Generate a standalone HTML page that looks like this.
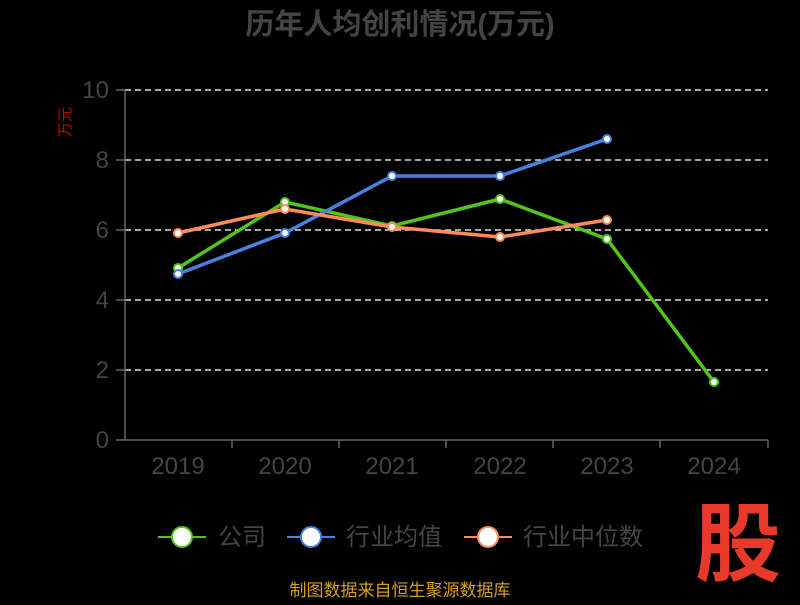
<!DOCTYPE html>
<html><head><meta charset="utf-8"><style>body{margin:0;background:#000;width:800px;height:600px;overflow:hidden}</style></head><body>
<svg width="800" height="600" xmlns="http://www.w3.org/2000/svg" font-family="Liberation Sans, Noto Sans CJK SC, sans-serif">
<rect width="800" height="600" fill="#000"/>
<text x="400" y="34" text-anchor="middle" font-size="29" font-weight="bold" fill="#444">历年人均创利情况(万元)</text>
<text x="70" y="122" font-size="15" fill="#c00" transform="rotate(-90 70 122)" text-anchor="middle">万元</text>
<g stroke="#ddd" stroke-dasharray="6,4" stroke-width="1.5">
<line x1="125" y1="90" x2="768" y2="90"/><line x1="125" y1="160" x2="768" y2="160"/><line x1="125" y1="230" x2="768" y2="230"/><line x1="125" y1="300" x2="768" y2="300"/><line x1="125" y1="370" x2="768" y2="370"/></g>
<g stroke="#666" stroke-width="1.5"><line x1="125" y1="90" x2="125" y2="440"/><line x1="125" y1="440" x2="768" y2="440"/>
<line x1="116" y1="90" x2="125" y2="90"/><line x1="116" y1="160" x2="125" y2="160"/><line x1="116" y1="230" x2="125" y2="230"/><line x1="116" y1="300" x2="125" y2="300"/><line x1="116" y1="370" x2="125" y2="370"/><line x1="116" y1="440" x2="125" y2="440"/>
<line x1="232" y1="440" x2="232" y2="448"/><line x1="339" y1="440" x2="339" y2="448"/><line x1="446" y1="440" x2="446" y2="448"/><line x1="553" y1="440" x2="553" y2="448"/><line x1="660" y1="440" x2="660" y2="448"/><line x1="768" y1="440" x2="768" y2="448"/></g>
<g font-size="24" fill="#444" text-anchor="end"><text x="109" y="98">10</text><text x="109" y="168">8</text><text x="109" y="238">6</text><text x="109" y="308">4</text><text x="109" y="378">2</text><text x="109" y="448">0</text></g>
<g font-size="24" fill="#444" text-anchor="middle"><text x="178" y="474">2019</text><text x="285" y="474">2020</text><text x="392" y="474">2021</text><text x="500" y="474">2022</text><text x="607" y="474">2023</text><text x="714" y="474">2024</text></g>
<g fill="none" stroke-width="3.5">
<polyline stroke="#52c41a" points="178,268 285,202 392,226 500,199 607,239 714,382"/>
<polyline stroke="#4a80e0" points="178,274 285,233 392,176 500,176 607,139"/>
<polyline stroke="#ff8c5a" points="178,233 285,209 392,227 500,237 607,220"/></g>
<g fill="#fff" stroke-width="2">
<g stroke="#52c41a"><circle cx="178" cy="268" r="4"/><circle cx="285" cy="202" r="4"/><circle cx="392" cy="226" r="4"/><circle cx="500" cy="199" r="4"/><circle cx="607" cy="239" r="4"/><circle cx="714" cy="382" r="4"/></g>
<g stroke="#4a80e0"><circle cx="178" cy="274" r="4"/><circle cx="285" cy="233" r="4"/><circle cx="392" cy="176" r="4"/><circle cx="500" cy="176" r="4"/><circle cx="607" cy="139" r="4"/></g>
<g stroke="#ff8c5a"><circle cx="178" cy="233" r="4"/><circle cx="285" cy="209" r="4"/><circle cx="392" cy="227" r="4"/><circle cx="500" cy="237" r="4"/><circle cx="607" cy="220" r="4"/></g></g>
<g stroke-width="2"><line x1="158" y1="537" x2="206" y2="537" stroke="#52c41a"/><circle cx="182" cy="537" r="10" fill="#fff" stroke="#52c41a"/>
<line x1="287" y1="537" x2="335" y2="537" stroke="#4a80e0"/><circle cx="311" cy="537" r="10" fill="#fff" stroke="#4a80e0"/>
<line x1="464" y1="537" x2="512" y2="537" stroke="#ff8c5a"/><circle cx="488" cy="537" r="10" fill="#fff" stroke="#ff8c5a"/></g>
<g font-size="24" fill="#444"><text x="218" y="545">公司</text><text x="346" y="545">行业均值</text><text x="523" y="545">行业中位数</text></g>
<text x="738" y="574" font-size="86" font-weight="bold" fill="#e8392a" text-anchor="middle">股</text>
<text x="400" y="596" font-size="17" fill="#d4a017" text-anchor="middle">制图数据来自恒生聚源数据库</text>
</svg></body></html>
